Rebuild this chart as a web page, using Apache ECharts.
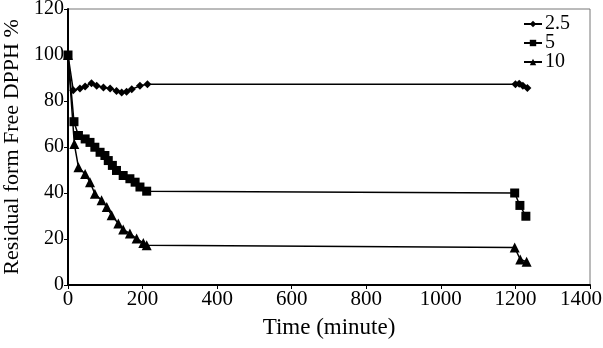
<!DOCTYPE html>
<html>
<head>
<meta charset="utf-8">
<script src="https://cdn.jsdelivr.net/npm/echarts@6/dist/echarts.min.js"></script>
<style>
  html, body { margin: 0; padding: 0; background: #fff; }
  #chart { width: 603px; height: 348px; }
</style>
</head>
<body>
<div id="chart"></div>
<script>
// time (minute) and residual DPPH % per concentration
const time25 = [0, 14, 32, 46, 63, 77, 95, 113, 130, 144, 157, 171, 193, 213, 1200, 1210, 1220, 1232];
const val25 = [100, 84.7, 85.4, 86.3, 87.7, 86.6, 85.9, 85.4, 84.4, 83.7, 84, 85.1, 86.6, 87.3, 87.3, 87.5, 86.6, 85.6];

const time5 = [0, 16, 28, 46, 59, 72, 86, 99, 108, 119, 130, 148, 166, 180, 193, 211, 1198, 1212, 1228];
const val5 = [100, 71, 65, 63.5, 62, 59.9, 57.7, 56.3, 54.1, 52, 49.8, 47.6, 46.2, 44.7, 42.6, 40.8, 40, 34.6, 29.9];

const time10 = [0, 17, 28, 46, 59, 72, 90, 104, 117, 135, 148, 166, 184, 202, 211, 1198, 1213, 1230];
const val10 = [100, 61.3, 51.2, 48.3, 44.7, 39.7, 36.8, 33.9, 30.3, 26.7, 24.1, 22.4, 20.2, 18.3, 17.3, 16.3, 11.1, 10.1];

const seriesNames = ["2.5", "5", "10"];
const xTicks = [0, 200, 400, 600, 800, 1000, 1200, 1400];
const yTicks = [0, 20, 40, 60, 80, 100, 120];

const pairs = (xs, ys) => xs.map((x, i) => [x, ys[i]]);

const chart = echarts.init(document.getElementById("chart"));
const font = "'Liberation Serif', 'Times New Roman', serif";

const lineStyle = { color: "#000", width: 1.5 };
const xMax = xTicks[xTicks.length - 1];

chart.setOption({
  animation: false,
  textStyle: { fontFamily: font, color: "#000" },
  grid: {
    left: 68,
    right: 13,
    top: 9,
    bottom: 63,
    containLabel: false,
    outerBoundsMode: "none",
    show: true,
    borderColor: "#777",
    borderWidth: 1,
  },
  legend: {
    orient: "vertical",
    right: 28,
    top: 9,
    itemWidth: 18,
    itemHeight: 8,
    itemGap: -1,
    data: seriesNames,
    textStyle: { fontFamily: font, fontSize: 20, color: "#000", padding: [0, 0, 0, -2] },
  },
  xAxis: {
    type: "value",
    min: 0,
    max: xMax,
    interval: 200,
    name: "Time (minute)",
    nameLocation: "middle",
    nameGap: 31,
    nameTextStyle: { fontFamily: font, fontSize: 23, color: "#000" },
    axisLine: { lineStyle: { color: "#000", width: 2 } },
    axisTick: { show: true, length: 4, lineStyle: { color: "#000", width: 1 } },
    axisLabel: {
      fontFamily: font,
      fontSize: 21,
      color: "#000",
      margin: 4,
      // last label is nudged left so it stays inside the picture
      formatter: (v) => (v === xMax ? "{m|" + v + "}" : String(v)),
      rich: { m: { fontFamily: font, fontSize: 21, color: "#000", padding: [0, 18, 0, 0] } },
    },
    splitLine: { show: false },
  },
  yAxis: {
    type: "value",
    min: 0,
    max: yTicks[yTicks.length - 1],
    interval: 20,
    name: "Residual form Free DPPH %",
    nameLocation: "middle",
    nameGap: 43,
    nameTextStyle: { fontFamily: font, fontSize: 22, color: "#000" },
    axisLine: { show: true, lineStyle: { color: "#000", width: 2 } },
    axisTick: { show: true, length: 4, lineStyle: { color: "#000", width: 1 } },
    axisLabel: { fontFamily: font, fontSize: 20, color: "#000", margin: 4 },
    splitLine: { show: false },
  },
  series: [
    {
      name: seriesNames[0],
      type: "line",
      data: pairs(time25, val25),
      symbol: "diamond",
      symbolSize: 8,
      lineStyle: lineStyle,
      itemStyle: { color: "#000" },
    },
    {
      name: seriesNames[1],
      type: "line",
      data: pairs(time5, val5),
      symbol: "rect",
      symbolSize: 9,
      lineStyle: lineStyle,
      itemStyle: { color: "#000" },
    },
    {
      name: seriesNames[2],
      type: "line",
      data: pairs(time10, val10),
      symbol: "triangle",
      symbolSize: 10,
      lineStyle: lineStyle,
      itemStyle: { color: "#000" },
    },
  ],
});
</script>
</body>
</html>
